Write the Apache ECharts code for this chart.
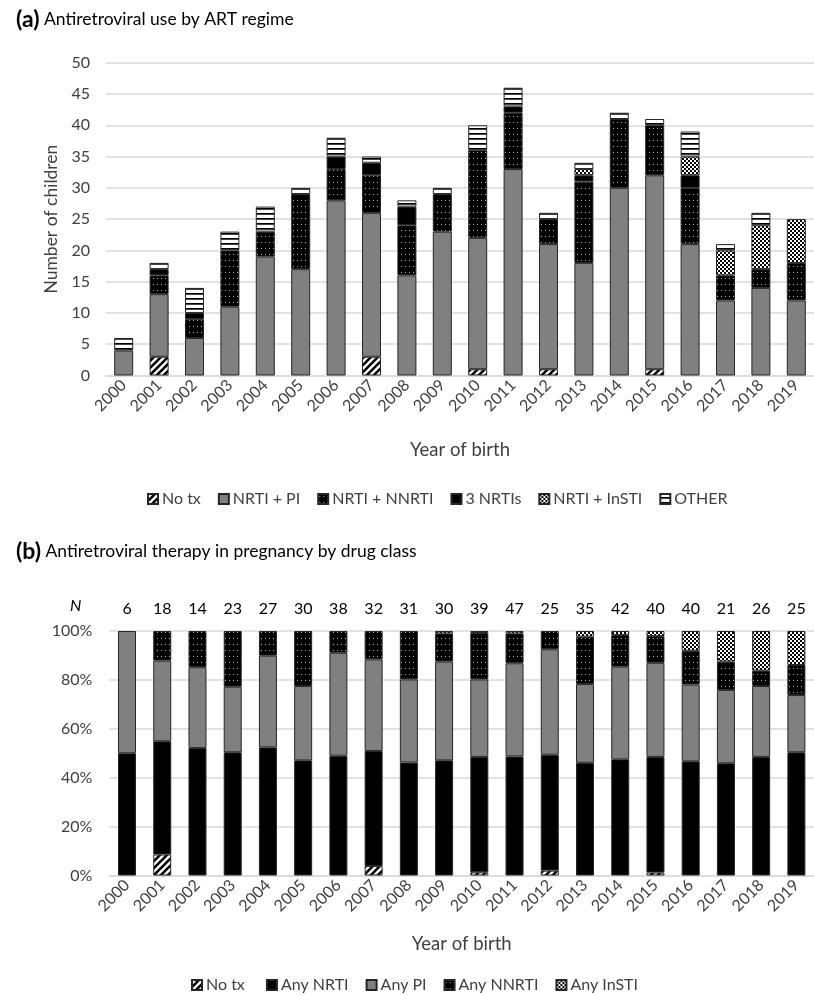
<!DOCTYPE html>
<html>
<head>
<meta charset="utf-8">
<script src="https://cdn.jsdelivr.net/npm/echarts@6/dist/echarts.min.js"></script>
<style>
  html, body { margin: 0; padding: 0; background: #fff; }
  #chart { width: 814px; height: 995px; }
</style>
</head>
<body>
<div id="chart"></div>
<script>
// Years of birth shared by both panels
const years = ['2000','2001','2002','2003','2004','2005','2006','2007','2008','2009',
               '2010','2011','2012','2013','2014','2015','2016','2017','2018','2019'];

// (a) number of children by ART regime
const regimeNoTx      = [0,3,0,0,0,0,0,3,0,0,1,0,1,0,0,1,0,0,0,0];
const regimeNrtiPi    = [4,10,6,11,19,17,28,23,16,23,21,33,20,18,30,31,21,12,14,12];
const regimeNrtiNnrti = [0,3,3,9,4,12,5,6,8,6,14,9,4,13,11,8,9,4,3,6];
const regime3Nrti     = [0,1,1,0,0,0,2,2,3,0,0,1,0,1,0,0,2,0,0,0];
const regimeNrtiInsti = [0,0,0,0,0,0,0,0,0,0,0,0,0,1,0,0,3,4,7,7];
const regimeOther     = [2,1,4,3,4,1,3,1,1,1,4,3,1,1,1,1,4,1,2,0];

// (b) share of drug classes in pregnancy (%)
const classNoTx  = [0,8.6,0,0,0,0,0,3.9,0,0,1.3,0,2.0,0,0,1.2,0,0,0,0];
const classNrti  = [50,46.3,52.1,50.4,52.4,47.1,49.0,47.0,46.2,47.1,47.2,48.7,47.4,46.1,47.5,47.3,46.7,45.9,48.5,50.4];
const classPi    = [50,33.0,33.1,26.8,37.5,30.4,42.1,37.5,34.0,40.4,31.7,38.1,43.1,32.2,37.9,38.5,31.4,30.0,29.0,23.4];
const classNnrti = [0,12.1,14.8,22.8,10.1,22.5,8.9,11.6,19.8,11.5,19.0,12.2,7.5,19.4,13.0,10.9,13.8,11.6,6.3,12.3];
const classInsti = [0,0,0,0,0,0,0,0,0,1.0,0.8,1.0,0,2.3,1.6,2.1,8.1,12.5,16.2,13.9];
const pregnancyN = ['6','18','14','23','27','30','38','32','31','30','39','47','25','35','42','40','40','21','26','25'];

const FONT = 'Lato, "Open Sans", sans-serif';
const TXT = '#404040';
const GRIDC = '#d9d9d9';
const EDGE = '#262626';

// --- fill patterns -------------------------------------------------------
function tile(w, h, draw) {
  const c = document.createElement('canvas');
  c.width = w; c.height = h;
  draw(c.getContext('2d'), w, h);
  return c;
}
const patDiag = tile(7, 7, (g, w, h) => {
  g.fillStyle = '#fff'; g.fillRect(0, 0, w, h);
  g.strokeStyle = '#000'; g.lineWidth = 2.6;
  g.beginPath();
  g.moveTo(-1, h + 1); g.lineTo(w + 1, -1);
  g.moveTo(-w / 2 - 1, h / 2 + 1); g.lineTo(w / 2 + 1, -h / 2 - 1);
  g.moveTo(w / 2 - 1, h * 1.5 + 1); g.lineTo(w * 1.5 + 1, h / 2 - 1);
  g.stroke();
});
const patDots = tile(4, 6, (g, w, h) => {
  g.fillStyle = '#000'; g.fillRect(0, 0, w, h);
  g.fillStyle = '#b8b8b8'; g.fillRect(1, 2, 1, 1);
});
const patCheck = tile(4, 4, (g, w, h) => {
  g.fillStyle = '#fff'; g.fillRect(0, 0, w, h);
  g.fillStyle = '#000'; g.fillRect(0, 0, 2, 2); g.fillRect(2, 2, 2, 2);
});
const patLines = tile(4, 5, (g, w, h) => {
  g.fillStyle = '#fff'; g.fillRect(0, 0, w, h);
  g.fillStyle = '#000'; g.fillRect(0, 3, w, 1);
  g.fillStyle = '#444'; g.fillRect(0, 4, w, 1);
});
const pat = c => ({ image: c, repeat: 'repeat' });

const fills = {
  diag: pat(patDiag),
  gray: '#808080',
  dots: pat(patDots),
  black: '#000',
  check: pat(patCheck),
  lines: pat(patLines)
};

const nz = arr => arr.map(v => (v === 0 ? null : v));

function barSeries(name, data, fill, stack, axisIdx, width) {
  return {
    name, type: 'bar', stack,
    xAxisIndex: axisIdx, yAxisIndex: axisIdx,
    barWidth: width,
    data: nz(data),
    itemStyle: { color: fill, borderColor: EDGE, borderWidth: 1 },
    emphasis: { disabled: true },
    animation: false
  };
}

const axisLabel = { fontFamily: FONT, fontSize: 16, color: TXT };
const titleRich = {
  b: { fontFamily: FONT, fontWeight: 'bold', fontSize: 23, color: '#000' },
  n: { fontFamily: FONT, fontWeight: 'normal', fontSize: 17.5, color: '#000' }
};

const chart = echarts.init(document.getElementById('chart'), null, { renderer: 'canvas' });
chart.setOption({
  backgroundColor: '#fff',
  animation: false,
  textStyle: { fontFamily: FONT },
  title: [
    {
      left: 11, top: 3,
      text: '{b|(a)}{n| Antiretroviral use by ART regime}',
      textStyle: { fontWeight: 'normal', rich: titleRich }
    },
    {
      left: 11, top: 535,
      text: '{b|(b)}{n| Antiretroviral therapy in pregnancy by drug class}',
      textStyle: { fontWeight: 'normal', rich: titleRich }
    }
  ],
  legend: [
    {
      left: 142, top: 486,
      itemWidth: 10, itemHeight: 10, itemGap: 17,
      icon: 'rect',
      textStyle: { fontFamily: FONT, fontSize: 16, color: TXT, padding: [0, 0, 0, -1] },
      data: ['No tx', 'NRTI + PI', 'NRTI + NNRTI', '3 NRTIs', 'NRTI + InSTI', 'OTHER']
    },
    {
      left: 186, top: 972,
      itemWidth: 10, itemHeight: 10, itemGap: 17,
      icon: 'rect',
      textStyle: { fontFamily: FONT, fontSize: 16, color: TXT, padding: [0, 0, 0, -1] },
      data: ['No tx ', 'Any NRTI', 'Any PI', 'Any NNRTI', 'Any InSTI']
    }
  ],
  grid: [
    { left: 106, top: 62.7, width: 714, height: 312.8 },
    { left: 109.4, top: 631, width: 711, height: 244.5 }
  ],
  xAxis: [
    {
      type: 'category', gridIndex: 0, data: years,
      axisLine: { lineStyle: { color: GRIDC, width: 1.5 } },
      axisTick: { show: false },
      axisLabel: Object.assign({ rotate: 45, margin: 7, interval: 0 }, axisLabel),
      name: 'Year of birth', nameLocation: 'middle', nameGap: 65,
      nameTextStyle: { fontFamily: FONT, fontSize: 18.5, color: TXT }
    },
    {
      type: 'category', gridIndex: 1, data: years,
      axisLine: { lineStyle: { color: GRIDC, width: 1.5 } },
      axisTick: { show: false },
      axisLabel: Object.assign({ rotate: 45, margin: 7, interval: 0 }, axisLabel),
      name: 'Year of birth', nameLocation: 'middle', nameGap: 59,
      nameTextStyle: { fontFamily: FONT, fontSize: 18.5, color: TXT }
    },
    {
      type: 'category', gridIndex: 1, position: 'top', data: pregnancyN,
      axisLine: { show: false }, axisTick: { show: false },
      axisLabel: Object.assign({ margin: 14, interval: 0 }, axisLabel, { color: '#000' })
    }
  ],
  yAxis: [
    {
      type: 'value', gridIndex: 0, min: 0, max: 50, interval: 5,
      axisLine: { show: false }, axisTick: { show: false },
      splitLine: { lineStyle: { color: GRIDC, width: 1.5 } },
      axisLabel: Object.assign({ margin: 16 }, axisLabel),
      name: 'Number of children', nameLocation: 'middle', nameGap: 46,
      nameTextStyle: { fontFamily: FONT, fontSize: 17.5, color: TXT }
    },
    {
      type: 'value', gridIndex: 1, min: 0, max: 100, interval: 20,
      axisLine: { show: false }, axisTick: { show: false },
      splitLine: { lineStyle: { color: GRIDC, width: 1.5 } },
      axisLabel: Object.assign({ margin: 17, formatter: '{value}%' }, axisLabel)
    }
  ],
  graphic: [
    {
      type: 'text', left: 70, top: 598,
      style: { text: 'N', fontFamily: FONT, fontSize: 16, fontStyle: 'italic', fill: '#000' }
    }
  ],
  series: [
    barSeries('No tx', regimeNoTx, fills.diag, 'a', 0, 19),
    barSeries('NRTI + PI', regimeNrtiPi, fills.gray, 'a', 0, 19),
    barSeries('NRTI + NNRTI', regimeNrtiNnrti, fills.dots, 'a', 0, 19),
    barSeries('3 NRTIs', regime3Nrti, fills.black, 'a', 0, 19),
    barSeries('NRTI + InSTI', regimeNrtiInsti, fills.check, 'a', 0, 19),
    barSeries('OTHER', regimeOther, fills.lines, 'a', 0, 19),

    barSeries('No tx ', classNoTx, fills.diag, 'b', 1, 18),
    barSeries('Any NRTI', classNrti, fills.black, 'b', 1, 18),
    barSeries('Any PI', classPi, fills.gray, 'b', 1, 18),
    barSeries('Any NNRTI', classNnrti, fills.dots, 'b', 1, 18),
    barSeries('Any InSTI', classInsti, fills.check, 'b', 1, 18)
  ]
});
</script>
</body>
</html>
